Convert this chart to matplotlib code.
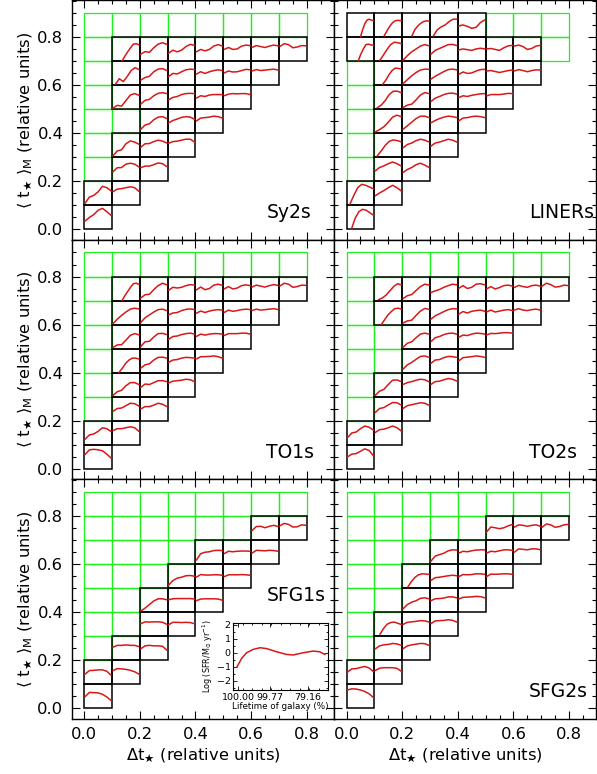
import numpy as np
import matplotlib.pyplot as plt
from matplotlib.patches import Rectangle
from matplotlib.ticker import MultipleLocator, FixedLocator

plt.rcParams['font.family'] = ['DejaVu Sans']
plt.rcParams['mathtext.fontset'] = 'dejavusans'

GREEN = '#1ef01e'
RED = '#d81818'

# bins: 8 in delta t (columns) x 9 in <t>_M (rows); a cell exists when row >= col
n_cols = 8
n_rows = 9
bin_w = 0.1

# mean SFH in each populated cell: 7 heights (fraction of the cell) across the cell
sy2s_curves = {
    (0, 0): [0.33, 0.48, 0.60, 0.78, 0.86, 0.72, 0.56],
    (0, 1): [0.07, 0.33, 0.40, 0.55, 0.78, 0.72, 0.58],
    (1, 1): [0.55, 0.66, 0.68, 0.72, 0.76, 0.72, 0.56],
    (1, 2): [0.38, 0.55, 0.56, 0.70, 0.74, 0.70, 0.58],
    (1, 3): [0.04, 0.25, 0.30, 0.55, 0.67, 0.62, 0.53],
    (1, 5): [0.03, 0.15, 0.12, 0.35, 0.58, 0.64, 0.57],
    (1, 6): [0.03, 0.26, 0.14, 0.35, 0.60, 0.72, 0.64],
    (1, 7): [0.00, 0.20, 0.38, 0.55, 0.70, 0.72, 0.67],
    (2, 2): [0.55, 0.62, 0.62, 0.68, 0.75, 0.72, 0.60],
    (2, 3): [0.40, 0.55, 0.56, 0.64, 0.70, 0.66, 0.58],
    (2, 4): [0.15, 0.33, 0.38, 0.55, 0.66, 0.68, 0.60],
    (2, 5): [0.20, 0.36, 0.40, 0.55, 0.65, 0.68, 0.64],
    (2, 6): [0.20, 0.31, 0.36, 0.55, 0.66, 0.68, 0.60],
    (2, 7): [0.28, 0.39, 0.36, 0.55, 0.70, 0.76, 0.69],
    (3, 3): [0.57, 0.64, 0.66, 0.70, 0.74, 0.74, 0.62],
    (3, 4): [0.42, 0.52, 0.58, 0.65, 0.68, 0.66, 0.57],
    (3, 5): [0.38, 0.48, 0.52, 0.60, 0.64, 0.65, 0.64],
    (3, 6): [0.35, 0.48, 0.46, 0.55, 0.63, 0.66, 0.64],
    (3, 7): [0.32, 0.45, 0.38, 0.45, 0.60, 0.69, 0.65],
    (4, 4): [0.50, 0.62, 0.64, 0.66, 0.70, 0.68, 0.62],
    (4, 5): [0.45, 0.55, 0.52, 0.58, 0.60, 0.60, 0.60],
    (4, 6): [0.45, 0.55, 0.48, 0.55, 0.60, 0.63, 0.60],
    (4, 7): [0.38, 0.48, 0.42, 0.48, 0.62, 0.68, 0.62],
    (5, 5): [0.55, 0.62, 0.64, 0.63, 0.64, 0.64, 0.60],
    (5, 6): [0.50, 0.58, 0.54, 0.55, 0.60, 0.65, 0.63],
    (5, 7): [0.48, 0.56, 0.48, 0.50, 0.62, 0.66, 0.64],
    (6, 6): [0.58, 0.64, 0.60, 0.62, 0.64, 0.66, 0.62],
    (6, 7): [0.56, 0.64, 0.60, 0.56, 0.62, 0.66, 0.63],
    (7, 7): [0.60, 0.72, 0.68, 0.55, 0.58, 0.64, 0.63],
}
sy2s_start = {(1, 6): 0.12, (1, 7): 0.36}

liners_curves = {
    (0, 0): [0.01, 0.45, 0.72, 0.82, 0.78, 0.68, 0.57],
    (0, 1): [0.03, 0.40, 0.72, 0.86, 0.82, 0.75, 0.67],
    (0, 7): [0.00, 0.28, 0.50, 0.68, 0.70, 0.67, 0.65],
    (0, 8): [0.00, 0.30, 0.55, 0.70, 0.74, 0.70, 0.68],
    (1, 1): [0.38, 0.50, 0.60, 0.72, 0.82, 0.72, 0.58],
    (1, 2): [0.42, 0.56, 0.63, 0.72, 0.79, 0.72, 0.62],
    (1, 3): [0.04, 0.25, 0.48, 0.65, 0.71, 0.68, 0.63],
    (1, 4): [0.04, 0.14, 0.26, 0.45, 0.66, 0.74, 0.68],
    (1, 5): [0.05, 0.16, 0.35, 0.60, 0.74, 0.74, 0.68],
    (1, 6): [0.03, 0.20, 0.42, 0.60, 0.70, 0.69, 0.66],
    (1, 7): [0.03, 0.25, 0.48, 0.68, 0.78, 0.76, 0.72],
    (1, 8): [0.04, 0.25, 0.45, 0.60, 0.68, 0.69, 0.68],
    (2, 2): [0.35, 0.48, 0.56, 0.68, 0.74, 0.66, 0.56],
    (2, 3): [0.38, 0.52, 0.58, 0.68, 0.74, 0.70, 0.62],
    (2, 4): [0.15, 0.30, 0.45, 0.60, 0.70, 0.70, 0.64],
    (2, 5): [0.06, 0.16, 0.20, 0.38, 0.58, 0.68, 0.64],
    (2, 6): [0.05, 0.22, 0.38, 0.52, 0.62, 0.66, 0.65],
    (2, 7): [0.03, 0.22, 0.38, 0.50, 0.62, 0.68, 0.63],
    (2, 8): [0.04, 0.30, 0.45, 0.56, 0.64, 0.67, 0.66],
    (3, 3): [0.45, 0.58, 0.62, 0.68, 0.74, 0.70, 0.62],
    (3, 4): [0.42, 0.52, 0.60, 0.66, 0.70, 0.68, 0.64],
    (3, 5): [0.30, 0.45, 0.52, 0.60, 0.65, 0.66, 0.62],
    (3, 6): [0.24, 0.36, 0.46, 0.56, 0.64, 0.66, 0.63],
    (3, 7): [0.28, 0.44, 0.52, 0.60, 0.68, 0.69, 0.64],
    (3, 8): [0.04, 0.30, 0.42, 0.50, 0.64, 0.74, 0.74],
    (4, 4): [0.50, 0.62, 0.64, 0.68, 0.70, 0.68, 0.64],
    (4, 5): [0.47, 0.55, 0.52, 0.57, 0.60, 0.63, 0.64],
    (4, 6): [0.44, 0.54, 0.48, 0.50, 0.58, 0.64, 0.65],
    (4, 7): [0.46, 0.50, 0.47, 0.44, 0.50, 0.53, 0.50],
    (4, 8): [0.46, 0.50, 0.44, 0.36, 0.40, 0.60, 0.71],
    (5, 5): [0.54, 0.60, 0.60, 0.60, 0.62, 0.65, 0.64],
    (5, 6): [0.58, 0.60, 0.56, 0.52, 0.56, 0.60, 0.62],
    (5, 7): [0.50, 0.52, 0.48, 0.44, 0.55, 0.63, 0.65],
    (6, 6): [0.58, 0.64, 0.60, 0.55, 0.60, 0.63, 0.62],
    (6, 7): [0.62, 0.66, 0.60, 0.48, 0.52, 0.62, 0.65],
}
liners_start = {(0, 0): 0.18, (0, 1): 0.12, (0, 7): 0.42, (0, 8): 0.5,
                (1, 3): 0.1, (1, 5): 0.1, (1, 6): 0.3, (1, 7): 0.2,
                (1, 8): 0.35, (2, 8): 0.35, (3, 8): 0.12}

to1s_curves = {
    (0, 0): [0.58, 0.78, 0.80, 0.78, 0.74, 0.60, 0.43],
    (0, 1): [0.22, 0.40, 0.44, 0.55, 0.70, 0.66, 0.54],
    (1, 1): [0.58, 0.66, 0.66, 0.70, 0.74, 0.70, 0.54],
    (1, 2): [0.38, 0.50, 0.52, 0.62, 0.72, 0.70, 0.60],
    (1, 3): [0.04, 0.20, 0.26, 0.45, 0.58, 0.58, 0.50],
    (1, 4): [0.00, 0.18, 0.38, 0.52, 0.60, 0.60, 0.56],
    (1, 5): [0.04, 0.15, 0.16, 0.35, 0.55, 0.62, 0.57],
    (1, 6): [0.03, 0.22, 0.38, 0.52, 0.64, 0.68, 0.65],
    (1, 7): [0.00, 0.20, 0.38, 0.55, 0.70, 0.72, 0.67],
    (2, 2): [0.48, 0.58, 0.58, 0.64, 0.72, 0.68, 0.58],
    (2, 3): [0.38, 0.52, 0.50, 0.58, 0.66, 0.66, 0.62],
    (2, 4): [0.18, 0.32, 0.36, 0.52, 0.63, 0.64, 0.60],
    (2, 5): [0.08, 0.28, 0.30, 0.48, 0.62, 0.63, 0.58],
    (2, 6): [0.08, 0.28, 0.40, 0.52, 0.62, 0.64, 0.58],
    (2, 7): [0.10, 0.24, 0.26, 0.45, 0.62, 0.72, 0.65],
    (3, 3): [0.56, 0.64, 0.66, 0.68, 0.72, 0.70, 0.62],
    (3, 4): [0.42, 0.52, 0.54, 0.60, 0.63, 0.62, 0.60],
    (3, 5): [0.38, 0.50, 0.52, 0.58, 0.62, 0.64, 0.60],
    (3, 6): [0.40, 0.48, 0.50, 0.58, 0.63, 0.65, 0.62],
    (3, 7): [0.42, 0.55, 0.52, 0.55, 0.62, 0.66, 0.64],
    (4, 4): [0.56, 0.66, 0.66, 0.67, 0.69, 0.66, 0.60],
    (4, 5): [0.50, 0.60, 0.56, 0.60, 0.62, 0.62, 0.60],
    (4, 6): [0.47, 0.56, 0.50, 0.56, 0.60, 0.62, 0.60],
    (4, 7): [0.44, 0.56, 0.45, 0.50, 0.64, 0.68, 0.63],
    (5, 5): [0.54, 0.62, 0.62, 0.62, 0.64, 0.64, 0.60],
    (5, 6): [0.50, 0.60, 0.55, 0.58, 0.62, 0.64, 0.62],
    (5, 7): [0.48, 0.58, 0.48, 0.52, 0.62, 0.65, 0.62],
    (6, 6): [0.58, 0.64, 0.60, 0.62, 0.64, 0.66, 0.62],
    (6, 7): [0.56, 0.64, 0.60, 0.56, 0.62, 0.66, 0.63],
    (7, 7): [0.60, 0.72, 0.68, 0.55, 0.58, 0.64, 0.63],
}
to1s_start = {(1, 4): 0.25, (1, 7): 0.36}

to2s_curves = {
    (0, 0): [0.48, 0.60, 0.62, 0.72, 0.82, 0.75, 0.52],
    (0, 1): [0.28, 0.48, 0.52, 0.66, 0.77, 0.72, 0.60],
    (1, 1): [0.50, 0.62, 0.64, 0.70, 0.77, 0.70, 0.56],
    (1, 2): [0.33, 0.50, 0.54, 0.65, 0.75, 0.74, 0.64],
    (1, 3): [0.05, 0.22, 0.30, 0.50, 0.68, 0.69, 0.62],
    (1, 6): [0.00, 0.20, 0.40, 0.54, 0.66, 0.68, 0.64],
    (1, 7): [0.03, 0.10, 0.22, 0.40, 0.58, 0.70, 0.65],
    (2, 2): [0.50, 0.62, 0.66, 0.70, 0.74, 0.72, 0.63],
    (2, 3): [0.50, 0.58, 0.62, 0.68, 0.72, 0.70, 0.61],
    (2, 4): [0.14, 0.32, 0.42, 0.55, 0.67, 0.69, 0.63],
    (2, 5): [0.05, 0.22, 0.28, 0.45, 0.60, 0.64, 0.60],
    (2, 6): [0.06, 0.15, 0.18, 0.38, 0.56, 0.67, 0.63],
    (2, 7): [0.08, 0.20, 0.25, 0.42, 0.58, 0.68, 0.64],
    (3, 3): [0.50, 0.62, 0.64, 0.70, 0.75, 0.72, 0.64],
    (3, 4): [0.38, 0.52, 0.54, 0.62, 0.67, 0.66, 0.63],
    (3, 5): [0.28, 0.45, 0.50, 0.58, 0.63, 0.64, 0.60],
    (3, 6): [0.22, 0.36, 0.45, 0.54, 0.62, 0.66, 0.65],
    (3, 7): [0.33, 0.40, 0.46, 0.55, 0.62, 0.68, 0.65],
    (4, 4): [0.48, 0.62, 0.64, 0.66, 0.69, 0.67, 0.63],
    (4, 5): [0.46, 0.56, 0.54, 0.60, 0.64, 0.63, 0.60],
    (4, 6): [0.43, 0.54, 0.48, 0.55, 0.58, 0.60, 0.55],
    (4, 7): [0.50, 0.62, 0.50, 0.55, 0.68, 0.70, 0.65],
    (5, 5): [0.56, 0.63, 0.62, 0.64, 0.66, 0.66, 0.64],
    (5, 6): [0.52, 0.60, 0.52, 0.56, 0.60, 0.62, 0.58],
    (5, 7): [0.48, 0.58, 0.48, 0.54, 0.62, 0.64, 0.60],
    (6, 6): [0.60, 0.66, 0.60, 0.58, 0.62, 0.64, 0.60],
    (6, 7): [0.54, 0.63, 0.58, 0.55, 0.62, 0.64, 0.60],
    (7, 7): [0.60, 0.72, 0.66, 0.56, 0.58, 0.64, 0.62],
}
to2s_start = {(1, 6): 0.25, (1, 7): 0.14}

sfg1s_curves = {
    (0, 0): [0.46, 0.64, 0.63, 0.62, 0.56, 0.45, 0.30],
    (0, 1): [0.40, 0.55, 0.56, 0.58, 0.58, 0.52, 0.35],
    (1, 1): [0.55, 0.63, 0.62, 0.60, 0.56, 0.50, 0.40],
    (1, 2): [0.52, 0.60, 0.60, 0.62, 0.60, 0.60, 0.55],
    (2, 2): [0.45, 0.58, 0.60, 0.58, 0.58, 0.56, 0.40],
    (2, 3): [0.50, 0.58, 0.57, 0.58, 0.58, 0.56, 0.48],
    (2, 4): [0.03, 0.15, 0.30, 0.45, 0.54, 0.54, 0.50],
    (3, 3): [0.46, 0.56, 0.56, 0.55, 0.56, 0.55, 0.50],
    (3, 4): [0.50, 0.54, 0.55, 0.55, 0.55, 0.55, 0.53],
    (3, 5): [0.10, 0.30, 0.40, 0.44, 0.50, 0.51, 0.48],
    (4, 4): [0.46, 0.53, 0.54, 0.54, 0.54, 0.53, 0.48],
    (4, 5): [0.44, 0.55, 0.53, 0.53, 0.54, 0.54, 0.52],
    (4, 6): [0.15, 0.42, 0.48, 0.50, 0.55, 0.56, 0.55],
    (5, 5): [0.46, 0.54, 0.54, 0.54, 0.55, 0.54, 0.52],
    (5, 6): [0.42, 0.52, 0.50, 0.52, 0.53, 0.53, 0.52],
    (6, 6): [0.44, 0.56, 0.55, 0.54, 0.56, 0.55, 0.52],
    (6, 7): [0.38, 0.55, 0.56, 0.50, 0.56, 0.60, 0.55],
    (7, 7): [0.58, 0.68, 0.64, 0.53, 0.54, 0.62, 0.60],
}
sfg1s_start = {}

sfg2s_curves = {
    (0, 0): [0.74, 0.79, 0.78, 0.74, 0.68, 0.58, 0.42],
    (0, 1): [0.48, 0.62, 0.63, 0.68, 0.72, 0.66, 0.50],
    (1, 1): [0.55, 0.65, 0.67, 0.67, 0.67, 0.64, 0.52],
    (1, 2): [0.45, 0.58, 0.62, 0.64, 0.68, 0.66, 0.60],
    (1, 3): [0.06, 0.30, 0.48, 0.55, 0.57, 0.52, 0.47],
    (2, 2): [0.46, 0.58, 0.62, 0.65, 0.68, 0.67, 0.60],
    (2, 3): [0.47, 0.56, 0.58, 0.60, 0.63, 0.62, 0.57],
    (2, 4): [0.12, 0.30, 0.40, 0.46, 0.56, 0.58, 0.54],
    (2, 5): [0.03, 0.25, 0.43, 0.54, 0.58, 0.57, 0.56],
    (3, 3): [0.50, 0.62, 0.63, 0.64, 0.67, 0.64, 0.57],
    (3, 4): [0.46, 0.54, 0.55, 0.57, 0.62, 0.62, 0.58],
    (3, 5): [0.30, 0.42, 0.44, 0.47, 0.50, 0.52, 0.50],
    (3, 6): [0.10, 0.32, 0.38, 0.44, 0.54, 0.58, 0.57],
    (4, 4): [0.53, 0.60, 0.61, 0.62, 0.64, 0.63, 0.58],
    (4, 5): [0.46, 0.55, 0.54, 0.55, 0.58, 0.58, 0.56],
    (4, 6): [0.44, 0.52, 0.50, 0.54, 0.57, 0.58, 0.58],
    (5, 5): [0.46, 0.57, 0.56, 0.57, 0.58, 0.58, 0.56],
    (5, 6): [0.44, 0.52, 0.50, 0.54, 0.58, 0.58, 0.56],
    (5, 7): [0.32, 0.53, 0.50, 0.46, 0.50, 0.58, 0.64],
    (6, 6): [0.48, 0.62, 0.60, 0.58, 0.62, 0.62, 0.58],
    (6, 7): [0.52, 0.62, 0.60, 0.56, 0.60, 0.62, 0.56],
    (7, 7): [0.52, 0.66, 0.62, 0.52, 0.55, 0.62, 0.64],
}
sfg2s_start = {(1, 3): 0.2, (2, 5): 0.2}

panel_names = ["Sy2s", "LINERs", "TO1s", "TO2s", "SFG1s", "SFG2s"]
panel_curves = [sy2s_curves, liners_curves, to1s_curves, to2s_curves,
                sfg1s_curves, sfg2s_curves]
panel_starts = [sy2s_start, liners_start, to1s_start, to2s_start,
                sfg1s_start, sfg2s_start]
name_y = [0.045, 0.045, 0.045, 0.045, 0.445, 0.045]

# inset: example SFH
inset_x = [0.04, 0.088, 0.14, 0.21, 0.28, 0.35, 0.456, 0.56, 0.63, 0.736, 0.84, 0.91, 0.963]
inset_logsfr = [-1.0, -0.4, 0.0, 0.24, 0.36, 0.3, 0.07, -0.12, -0.16, 0.0, 0.12, 0.07, -0.12]
inset_tick_pos = [0.05, 0.386, 0.786]
inset_tick_labels = ["100.00", "99.77", "79.16"]

fig = plt.figure(figsize=(5.97, 7.74), dpi=100)

col_left = [0.1201, 0.5595]
row_bottom = [0.6902, 0.3807, 0.0716]
pw, ph = 0.4394, 0.3092

ylab = r"$\langle\ \mathrm{t}_{\bigstar}\ \rangle_{\mathrm{M}}$ (relative units)"
xlab = r"$\Delta\mathrm{t}_{\bigstar}$ (relative units)"

for k in range(6):
    r, c = divmod(k, 2)
    ax = fig.add_axes([col_left[c], row_bottom[r], pw, ph])
    curves = panel_curves[k]
    starts = panel_starts[k]

    for i in range(n_cols):
        for j in range(i, n_rows):
            has = (i, j) in curves
            ax.add_patch(Rectangle((i * bin_w, j * bin_w), bin_w, bin_w,
                                   fill=False,
                                   edgecolor='black' if has else GREEN,
                                   lw=1.1 if has else 0.9,
                                   zorder=3 if has else 2))

    for (i, j), vals in curves.items():
        x0 = starts.get((i, j), 0.03)
        fx = np.linspace(x0, 0.97, len(vals))
        ax.plot(i * bin_w + bin_w * fx, j * bin_w + bin_w * np.array(vals),
                color=RED, lw=1.1, zorder=4, solid_capstyle='round')

    ax.text(0.655, name_y[k], panel_names[k], fontsize=13.5, ha='left',
            va='baseline')

    ax.set_xlim(-0.045, 0.898)
    ax.set_ylim(-0.045, 0.952)
    ax.xaxis.set_major_locator(MultipleLocator(0.2))
    ax.xaxis.set_minor_locator(MultipleLocator(0.05))
    ax.yaxis.set_major_locator(MultipleLocator(0.2))
    ax.yaxis.set_minor_locator(MultipleLocator(0.05))
    ax.tick_params(which='both', direction='in', top=True, right=True,
                   labelsize=11.8, width=0.8, pad=6)
    ax.tick_params(which='major', length=6)
    ax.tick_params(which='minor', length=3)
    for s in ax.spines.values():
        s.set_linewidth(1.0)

    if c == 0:
        ax.set_ylabel(ylab, fontsize=11.8)
        ax.yaxis.set_label_coords(-0.14, 0.5)
    else:
        ax.tick_params(labelleft=False)
    if r == 2:
        ax.set_xlabel(xlab, fontsize=11.8)
        ax.xaxis.set_label_coords(0.5, -0.12)
    else:
        ax.tick_params(labelbottom=False)

    if panel_names[k] == "SFG1s":
        axi = fig.add_axes([0.3908, 0.1085, 0.1591, 0.0862])
        axi.plot(inset_x, inset_logsfr, color=RED, lw=1.1)
        axi.set_xlim(0, 1)
        axi.set_ylim(-2.67, 2.11)
        axi.xaxis.set_major_locator(FixedLocator(inset_tick_pos))
        axi.set_xticklabels(inset_tick_labels)
        axi.xaxis.set_minor_locator(MultipleLocator(0.1))
        axi.yaxis.set_major_locator(MultipleLocator(1))
        axi.yaxis.set_minor_locator(MultipleLocator(0.5))
        axi.tick_params(which='both', direction='in', top=True, right=True,
                        labelsize=6.8, width=0.6, pad=2)
        axi.tick_params(which='major', length=3)
        axi.tick_params(which='minor', length=1.5)
        for s in axi.spines.values():
            s.set_linewidth(0.8)
        axi.set_xlabel("Lifetime of galaxy (%)", fontsize=6.3, labelpad=0)
        axi.set_ylabel(r"Log (SFR/M$_{\odot}$ yr$^{-1}$)", fontsize=5.8,
                       labelpad=1)

fig.savefig("out.png", dpi=100)
